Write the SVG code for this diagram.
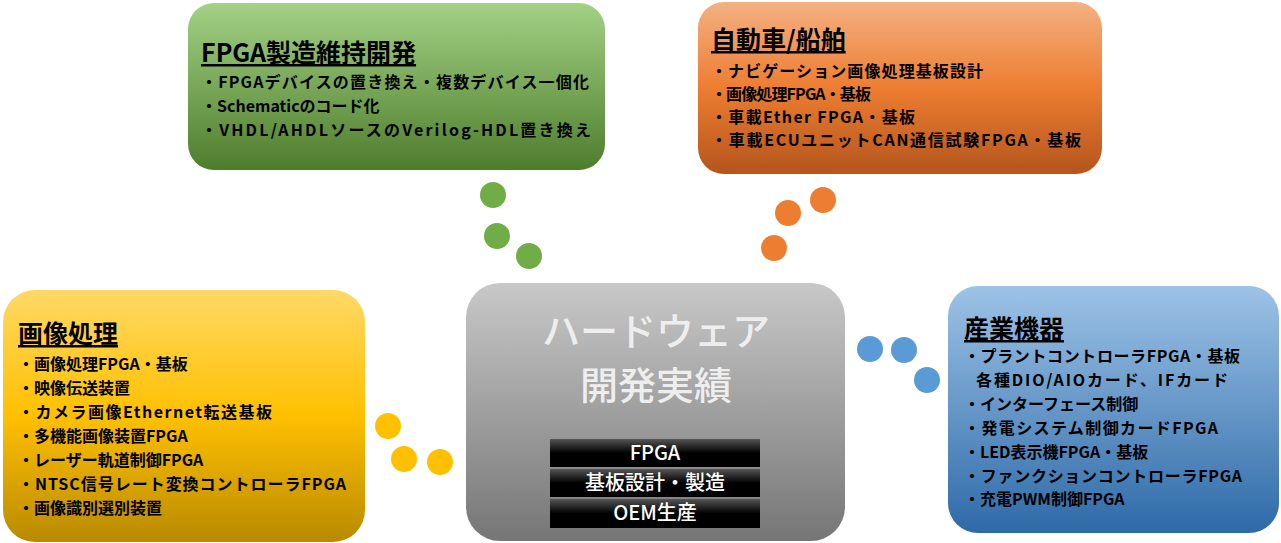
<svg xmlns="http://www.w3.org/2000/svg" width="1281" height="543" viewBox="0 0 1281 543">
<defs>
<linearGradient id="gG" x1="0" y1="0" x2="0" y2="1"><stop offset="0" stop-color="#a3d185"/><stop offset="1" stop-color="#4e7d2c"/></linearGradient>
<linearGradient id="gO" x1="0" y1="0" x2="0" y2="1"><stop offset="0" stop-color="#f4b183"/><stop offset="0.5" stop-color="#ed7d31"/><stop offset="1" stop-color="#b4551d"/></linearGradient>
<linearGradient id="gY" x1="0" y1="0" x2="0" y2="1"><stop offset="0" stop-color="#ffd966"/><stop offset="0.5" stop-color="#ffc000"/><stop offset="1" stop-color="#b88a00"/></linearGradient>
<linearGradient id="gB" x1="0" y1="0" x2="0" y2="1"><stop offset="0" stop-color="#9dc3e6"/><stop offset="1" stop-color="#2e6aa8"/></linearGradient>
<linearGradient id="gC" x1="0" y1="0" x2="0" y2="1"><stop offset="0" stop-color="#c8c8c8"/><stop offset="1" stop-color="#767676"/></linearGradient>
<linearGradient id="gK" x1="0" y1="0" x2="0" y2="1"><stop offset="0" stop-color="#555"/><stop offset="0.5" stop-color="#000"/><stop offset="1" stop-color="#000"/></linearGradient>
</defs>
<style>
text{font-family:"Noto Sans CJK JP","Noto Sans",sans-serif;font-weight:bold;fill:#000}
.t{font-size:25px;text-decoration:underline}
.l{font-size:16px}
.c{font-size:38px;fill:#eee;font-weight:500;text-anchor:middle}
.b{font-size:20px;fill:#fff;font-weight:500;text-anchor:middle}
</style>
<g id="connectors">
<circle cx="493" cy="195" r="13" fill="#70ad47"/><circle cx="497" cy="236" r="13" fill="#70ad47"/><circle cx="529" cy="256" r="13" fill="#70ad47"/>
<circle cx="823" cy="200" r="13" fill="#ed7d31"/><circle cx="788" cy="213" r="13" fill="#ed7d31"/><circle cx="774" cy="248" r="13" fill="#ed7d31"/>
<circle cx="388" cy="426" r="13" fill="#ffc000"/><circle cx="404" cy="459" r="13" fill="#ffc000"/><circle cx="440" cy="462" r="13" fill="#ffc000"/>
<circle cx="870" cy="349" r="13" fill="#5b9bd5"/><circle cx="904" cy="350" r="13" fill="#5b9bd5"/><circle cx="927" cy="380" r="13" fill="#5b9bd5"/>
</g>
<g id="green">
<rect x="188" y="3" width="417" height="167" rx="26" fill="url(#gG)"/>
<text class="t" x="201" y="62">FPGA製造維持開発</text>
<text class="l" x="201" y="88" textLength="388">・FPGAデバイスの置き換え・複数デバイス一個化</text>
<text class="l" x="201" y="112">・Schematicのコード化</text>
<text class="l" x="201" y="136" textLength="390">・VHDL/AHDLソースのVerilog-HDL置き換え</text>
</g>
<g id="orange">
<rect x="698" y="2" width="404" height="172" rx="26" fill="url(#gO)"/>
<text class="t" x="711" y="49">自動車/船舶</text>
<text class="l" x="711" y="77" textLength="272">・ナビゲーション画像処理基板設計</text>
<text class="l" x="711" y="100" textLength="160">・画像処理FPGA・基板</text>
<text class="l" x="711" y="123" textLength="204">・車載Ether  FPGA・基板</text>
<text class="l" x="711" y="146" textLength="370">・車載ECUユニットCAN通信試験FPGA・基板</text>
</g>
<g id="yellow">
<rect x="3" y="290" width="362" height="252" rx="32" fill="url(#gY)"/>
<text class="t" x="18" y="343">画像処理</text>
<text class="l" x="18" y="370">・画像処理FPGA・基板</text>
<text class="l" x="18" y="394">・映像伝送装置</text>
<text class="l" x="18" y="418" textLength="254">・カメラ画像Ethernet転送基板</text>
<text class="l" x="18" y="442">・多機能画像装置FPGA</text>
<text class="l" x="18" y="466">・レーザー軌道制御FPGA</text>
<text class="l" x="18" y="490" textLength="328">・NTSC信号レート変換コントローラFPGA</text>
<text class="l" x="18" y="514">・画像識別選別装置</text>
</g>
<g id="center">
<rect x="466" y="283" width="379" height="258" rx="34" fill="url(#gC)"/>
<text class="c" x="656" y="345">ハードウェア</text>
<text class="c" x="656" y="399">開発実績</text>
<rect x="550" y="439" width="210" height="28" fill="url(#gK)"/>
<rect x="550" y="469" width="210" height="28" fill="url(#gK)"/>
<rect x="550" y="499" width="210" height="29" fill="url(#gK)"/>
<text class="b" x="655" y="460">FPGA</text>
<text class="b" x="655" y="490">基板設計・製造</text>
<text class="b" x="655" y="520">OEM生産</text>
</g>
<g id="blue">
<rect x="948" y="286" width="331" height="247" rx="30" fill="url(#gB)"/>
<text class="t" x="964" y="338">産業機器</text>
<text class="l" x="964" y="362" textLength="276">・プラントコントローラFPGA・基板</text>
<text class="l" x="976" y="386" textLength="252">各種DIO/AIOカード、IFカード</text>
<text class="l" x="964" y="410">・インターフェース制御</text>
<text class="l" x="964" y="434" textLength="254">・発電システム制御カードFPGA</text>
<text class="l" x="964" y="458">・LED表示機FPGA・基板</text>
<text class="l" x="964" y="482" textLength="278">・ファンクションコントローラFPGA</text>
<text class="l" x="964" y="505">・充電PWM制御FPGA</text>
</g>
</svg>
